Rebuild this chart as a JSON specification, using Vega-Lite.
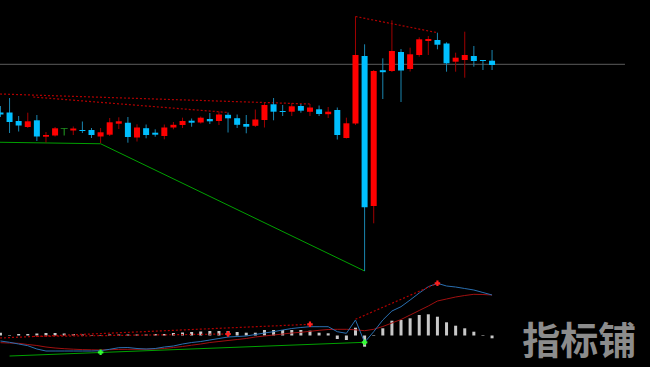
{
  "$schema": "https://vega.github.io/schema/vega-lite/v6.json",
  "background": "#000000",
  "padding": 0,
  "spacing": 0,
  "config": {"view": {"stroke": null}, "concat": {"spacing": 0}, "scale": {"continuousPadding": 0}, "mark": {"clip": true}},
  "datasets": {
    "candles": [
      {"i":0,"o":1787.5,"h":1794,"l":1783,"c":1785.5},
      {"i":1,"o":1787.5,"h":1802,"l":1767,"c":1778},
      {"i":2,"o":1779,"h":1784,"l":1768.5,"c":1774.5},
      {"i":3,"o":1773,"h":1787.3,"l":1772,"c":1778.7},
      {"i":4,"o":1779.7,"h":1785,"l":1759,"c":1763.5},
      {"i":5,"o":1763.3,"h":1768,"l":1757.5,"c":1765},
      {"i":6,"o":1764.5,"h":1773,"l":1763.5,"c":1771.7},
      {"i":7,"o":1771.5,"h":1771.5,"l":1764.5,"c":1771.5},
      {"i":8,"o":1769.5,"h":1773.5,"l":1765,"c":1771.5},
      {"i":9,"o":1770,"h":1778.5,"l":1767,"c":1769},
      {"i":10,"o":1770,"h":1772,"l":1762,"c":1765},
      {"i":11,"o":1763.5,"h":1772,"l":1757,"c":1767.7},
      {"i":12,"o":1765.3,"h":1782,"l":1764,"c":1777.7},
      {"i":13,"o":1776.3,"h":1782.7,"l":1771,"c":1778.7},
      {"i":14,"o":1777.3,"h":1783,"l":1757.3,"c":1763},
      {"i":15,"o":1762.5,"h":1775.7,"l":1758.5,"c":1772.5},
      {"i":16,"o":1771.8,"h":1775.5,"l":1761.7,"c":1765},
      {"i":17,"o":1767.3,"h":1770.7,"l":1763.3,"c":1765.3},
      {"i":18,"o":1764,"h":1775.5,"l":1760.7,"c":1772.5},
      {"i":19,"o":1772.5,"h":1778,"l":1770.7,"c":1775.2},
      {"i":20,"o":1775,"h":1782.3,"l":1772,"c":1779},
      {"i":21,"o":1779.3,"h":1781.5,"l":1773.3,"c":1777.3},
      {"i":22,"o":1777.5,"h":1783.5,"l":1776.5,"c":1782.3},
      {"i":23,"o":1781,"h":1787,"l":1776,"c":1778.7},
      {"i":24,"o":1779,"h":1788.5,"l":1775,"c":1785.5},
      {"i":25,"o":1785.2,"h":1787.5,"l":1767.5,"c":1781.7},
      {"i":26,"o":1781.8,"h":1785.5,"l":1772,"c":1775.2},
      {"i":27,"o":1776,"h":1785,"l":1766.7,"c":1773.3},
      {"i":28,"o":1774.2,"h":1790.5,"l":1773,"c":1780.5},
      {"i":29,"o":1780,"h":1797,"l":1772.5,"c":1795},
      {"i":30,"o":1795.7,"h":1802,"l":1779.7,"c":1788.3},
      {"i":31,"o":1789,"h":1795,"l":1784,"c":1788},
      {"i":32,"o":1788.3,"h":1797,"l":1784,"c":1793.7},
      {"i":33,"o":1794,"h":1796,"l":1787.3,"c":1789.3},
      {"i":34,"o":1788.2,"h":1796,"l":1784,"c":1792.5},
      {"i":35,"o":1790.7,"h":1794.5,"l":1784,"c":1786},
      {"i":36,"o":1785.8,"h":1793,"l":1782,"c":1788.3},
      {"i":37,"o":1790,"h":1792.5,"l":1760.5,"c":1765},
      {"i":38,"o":1762,"h":1782.3,"l":1761.5,"c":1776.7},
      {"i":39,"o":1776.5,"h":1883.5,"l":1775,"c":1845},
      {"i":40,"o":1844,"h":1855.7,"l":1629,"c":1692.7},
      {"i":41,"o":1694,"h":1830,"l":1676.7,"c":1829},
      {"i":42,"o":1829.8,"h":1841.7,"l":1801,"c":1827.8},
      {"i":43,"o":1829,"h":1879.7,"l":1828,"c":1849},
      {"i":44,"o":1848,"h":1851,"l":1798,"c":1829.5},
      {"i":45,"o":1831,"h":1852.3,"l":1828.5,"c":1845.7},
      {"i":46,"o":1845,"h":1862.7,"l":1843.3,"c":1860.7},
      {"i":47,"o":1859,"h":1864,"l":1845,"c":1861},
      {"i":48,"o":1860,"h":1867.3,"l":1850.7,"c":1855.3},
      {"i":49,"o":1856.5,"h":1857.7,"l":1828.3,"c":1836.7},
      {"i":50,"o":1838.3,"h":1847.3,"l":1828.3,"c":1842.3},
      {"i":51,"o":1840,"h":1868.3,"l":1822.3,"c":1845},
      {"i":52,"o":1844,"h":1854,"l":1833.3,"c":1839},
      {"i":53,"o":1840,"h":1840,"l":1830,"c":1839},
      {"i":54,"o":1839.3,"h":1850,"l":1830,"c":1835}
    ],
    "macd": [
      {"i":0,"hist":0.028,"macd":-0.055,"signal":-0.072},
      {"i":1,"hist":0.005,"macd":-0.068,"signal":-0.075},
      {"i":2,"hist":0.015,"macd":-0.085,"signal":-0.078},
      {"i":3,"hist":0.015,"macd":-0.102,"signal":-0.09},
      {"i":4,"hist":0.02,"macd":-0.135,"signal":-0.1},
      {"i":5,"hist":0.025,"macd":-0.155,"signal":-0.115},
      {"i":6,"hist":0.025,"macd":-0.155,"signal":-0.125},
      {"i":7,"hist":0.02,"macd":-0.155,"signal":-0.132},
      {"i":8,"hist":0.015,"macd":-0.155,"signal":-0.137},
      {"i":9,"hist":0.01,"macd":-0.155,"signal":-0.141},
      {"i":10,"hist":0.005,"macd":-0.155,"signal":-0.143},
      {"i":11,"hist":0.005,"macd":-0.152,"signal":-0.145},
      {"i":12,"hist":0.01,"macd":-0.138,"signal":-0.142},
      {"i":13,"hist":0.01,"macd":-0.122,"signal":-0.139},
      {"i":14,"hist":0.01,"macd":-0.12,"signal":-0.138},
      {"i":15,"hist":0.01,"macd":-0.13,"signal":-0.138},
      {"i":16,"hist":0.01,"macd":-0.135,"signal":-0.137},
      {"i":17,"hist":0.015,"macd":-0.13,"signal":-0.135},
      {"i":18,"hist":0.015,"macd":-0.115,"signal":-0.13},
      {"i":19,"hist":0.025,"macd":-0.105,"signal":-0.12},
      {"i":20,"hist":0.03,"macd":-0.085,"signal":-0.11},
      {"i":21,"hist":0.035,"macd":-0.07,"signal":-0.097},
      {"i":22,"hist":0.04,"macd":-0.06,"signal":-0.085},
      {"i":23,"hist":0.045,"macd":-0.045,"signal":-0.07},
      {"i":24,"hist":0.045,"macd":-0.03,"signal":-0.06},
      {"i":25,"hist":0.045,"macd":-0.015,"signal":-0.05},
      {"i":26,"hist":0.035,"macd":-0.01,"signal":-0.04},
      {"i":27,"hist":0.028,"macd":-0.005,"signal":-0.03},
      {"i":28,"hist":0.028,"macd":0.01,"signal":-0.015},
      {"i":29,"hist":0.055,"macd":0.025,"signal":-0.005},
      {"i":30,"hist":0.055,"macd":0.038,"signal":0.005},
      {"i":31,"hist":0.055,"macd":0.055,"signal":0.015},
      {"i":32,"hist":0.055,"macd":0.07,"signal":0.025},
      {"i":33,"hist":0.055,"macd":0.08,"signal":0.032},
      {"i":34,"hist":0.048,"macd":0.088,"signal":0.042},
      {"i":35,"hist":0.028,"macd":0.088,"signal":0.052},
      {"i":36,"hist":0.022,"macd":0.088,"signal":0.06},
      {"i":37,"hist":-0.035,"macd":0.038,"signal":0.062},
      {"i":38,"hist":-0.045,"macd":0.022,"signal":0.062},
      {"i":39,"hist":0.078,"macd":0.155,"signal":0.057},
      {"i":40,"hist":-0.112,"macd":-0.068,"signal":0.048},
      {"i":41,"hist":0.005,"macd":0.038,"signal":0.062},
      {"i":42,"hist":0.072,"macd":0.155,"signal":0.09},
      {"i":43,"hist":0.148,"macd":0.245,"signal":0.125},
      {"i":44,"hist":0.155,"macd":0.288,"signal":0.16},
      {"i":45,"hist":0.172,"macd":0.355,"signal":0.205},
      {"i":46,"hist":0.205,"macd":0.425,"signal":0.25},
      {"i":47,"hist":0.212,"macd":0.488,"signal":0.295},
      {"i":48,"hist":0.188,"macd":0.522,"signal":0.345},
      {"i":49,"hist":0.132,"macd":0.495,"signal":0.365},
      {"i":50,"hist":0.098,"macd":0.485,"signal":0.385},
      {"i":51,"hist":0.072,"macd":0.47,"signal":0.4},
      {"i":52,"hist":0.038,"macd":0.455,"signal":0.412},
      {"i":53,"hist":0.005,"macd":0.43,"signal":0.41},
      {"i":54,"hist":-0.028,"macd":0.405,"signal":0.405}
    ],
    "priceTrend": [
      {"line":"A","i":-0.05,"p":1806},
      {"line":"A","i":34,"p":1796},
      {"line":"B","i":3.6,"p":1803},
      {"line":"B","i":25,"p":1787.5},
      {"line":"C","i":39,"p":1883.5},
      {"line":"C","i":48,"p":1867.3}
    ],
    "priceSupport": [
      {"i":-0.05,"p":1757.75},
      {"i":11,"p":1756.25},
      {"i":40,"p":1629}
    ],
    "bidLine": [
      {"i":-0.05,"p":1835.7},
      {"i":68.6,"p":1835.7}
    ],
    "macdTrend": [
      {"line":"A","i":-0.05,"m":-0.025},
      {"line":"A","i":34,"m":0.112},
      {"line":"B","i":3.6,"m":-0.01},
      {"line":"B","i":25,"m":0.015},
      {"line":"C","i":39,"m":0.162},
      {"line":"C","i":48,"m":0.522}
    ],
    "macdSupport": [
      {"i":1,"m":-0.205},
      {"i":40,"m":-0.068}
    ],
    "signals": [
      {"i":25,"m":0.015,"kind":"top"},
      {"i":34,"m":0.112,"kind":"top"},
      {"i":48,"m":0.522,"kind":"top"},
      {"i":11,"m":-0.168,"kind":"bottom"},
      {"i":40,"m":-0.068,"kind":"bottom"}
    ],
    "mark": [
      {"i":63.57,"m":-0.075,"label":"指标铺"}
    ]
  },
  "vconcat": [
    {
      "width": 650,
      "height": 275,
      "encoding": {
        "x": {"field": "i", "type": "quantitative", "scale": {"domain": [-0.05, 71.35], "nice": false, "zero": false, "padding": 0}, "axis": null}
      },
      "layer": [
        {
          "data": {"name": "bidLine"},
          "mark": {"type": "line", "color": "#5c5c5c", "strokeWidth": 1, "clip": true},
          "encoding": {"y": {"field": "p", "type": "quantitative", "scale": {"domain": [1625, 1900], "nice": false, "zero": false, "padding": 0}, "axis": null}}
        },
        {
          "data": {"name": "priceTrend"},
          "mark": {"type": "line", "color": "#b00000", "strokeWidth": 1.2, "strokeDash": [2, 2], "clip": true},
          "encoding": {"y": {"field": "p", "type": "quantitative"}, "detail": {"field": "line"}}
        },
        {
          "data": {"name": "priceSupport"},
          "mark": {"type": "line", "color": "#00a000", "strokeWidth": 1, "clip": true},
          "encoding": {"y": {"field": "p", "type": "quantitative"}}
        },
        {
          "data": {"name": "candles"},
          "mark": {"type": "rule", "strokeWidth": 1, "clip": true},
          "encoding": {
            "y": {"field": "l", "type": "quantitative"},
            "y2": {"field": "h"},
            "color": {"condition": [{"test": "datum.c > datum.o", "value": "#a00000"}, {"test": "datum.c == datum.o", "value": "#22a022"}], "value": "#1a86b0"}
          }
        },
        {
          "data": {"name": "candles"},
          "mark": {"type": "bar", "size": 6, "clip": true},
          "encoding": {
            "y": {"field": "o", "type": "quantitative"},
            "y2": {"field": "c"},
            "color": {"condition": {"test": "datum.c > datum.o", "value": "#ff0000"}, "value": "#00bfff"}
          }
        },
        {
          "data": {"name": "candles"},
          "transform": [{"filter": "datum.o == datum.c"}],
          "mark": {"type": "tick", "orient": "horizontal", "size": 7, "thickness": 1, "color": "#22a022", "clip": true},
          "encoding": {"y": {"field": "o", "type": "quantitative"}}
        }
      ]
    },
    {
      "width": 650,
      "height": 92,
      "encoding": {
        "x": {"field": "i", "type": "quantitative", "scale": {"domain": [-0.05, 71.35], "nice": false, "zero": false, "padding": 0}, "axis": null}
      },
      "layer": [
        {
          "data": {"name": "macd"},
          "mark": {"type": "bar", "size": 3, "color": "#c8c8c8", "clip": true},
          "encoding": {
            "y": {"field": "hist", "type": "quantitative", "scale": {"domain": [-0.315, 0.605], "nice": false, "zero": false, "padding": 0}, "axis": null},
            "y2": {"datum": 0}
          }
        },
        {
          "data": {"name": "macd"},
          "mark": {"type": "line", "color": "#a01010", "strokeWidth": 1, "clip": true},
          "encoding": {"y": {"field": "signal", "type": "quantitative"}}
        },
        {
          "data": {"name": "macd"},
          "mark": {"type": "line", "color": "#2a6fb0", "strokeWidth": 1, "clip": true},
          "encoding": {"y": {"field": "macd", "type": "quantitative"}}
        },
        {
          "data": {"name": "macdTrend"},
          "mark": {"type": "line", "color": "#b00000", "strokeWidth": 1.2, "strokeDash": [2, 2], "clip": true},
          "encoding": {"y": {"field": "m", "type": "quantitative"}, "detail": {"field": "line"}}
        },
        {
          "data": {"name": "macdSupport"},
          "mark": {"type": "line", "color": "#00a000", "strokeWidth": 1, "clip": true},
          "encoding": {"y": {"field": "m", "type": "quantitative"}}
        },
        {
          "data": {"name": "signals"},
          "mark": {"type": "point", "shape": "cross", "filled": true, "size": 30, "opacity": 1, "clip": true},
          "encoding": {
            "y": {"field": "m", "type": "quantitative"},
            "color": {"field": "kind", "type": "nominal", "scale": {"domain": ["top", "bottom"], "range": ["#ff2020", "#33ff33"]}, "legend": null}
          }
        },
        {
          "data": {"name": "mark"},
          "mark": {"type": "text", "font": "Noto Sans CJK SC", "fontWeight": "bold", "fontSize": 38, "color": "#8c8c8c", "align": "center", "baseline": "middle", "clip": true},
          "encoding": {"y": {"field": "m", "type": "quantitative"}, "text": {"field": "label"}}
        }
      ]
    }
  ]
}
